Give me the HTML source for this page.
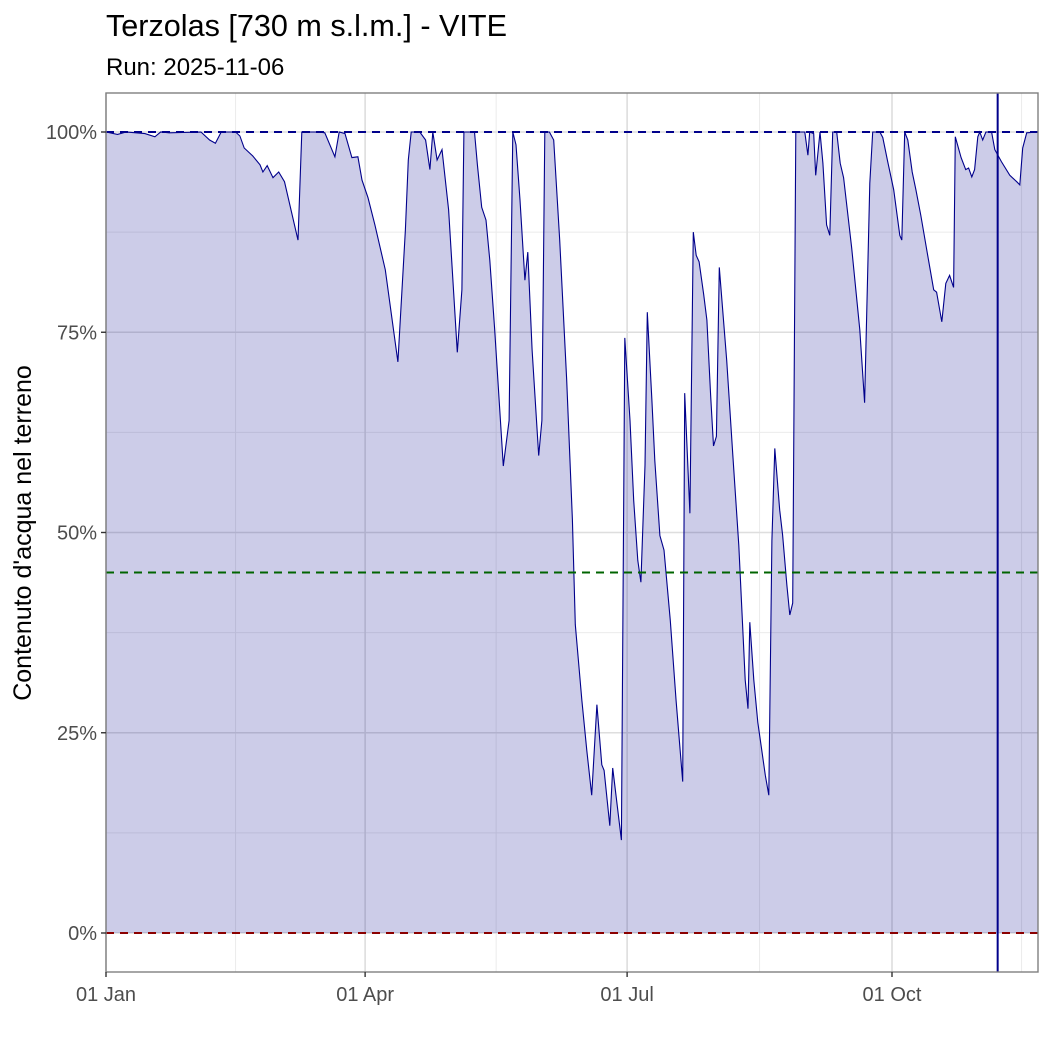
<!DOCTYPE html>
<html><head><meta charset="utf-8"><style>
body{margin:0;background:#fff;}
svg text{font-family:"Liberation Sans Narrow","Liberation Sans",sans-serif;}
</style></head><body>
<svg id="chart" width="1050" height="1050" xmlns="http://www.w3.org/2000/svg">
<text x="106" y="36" font-size="31" fill="#000" textLength="401" lengthAdjust="spacingAndGlyphs">Terzolas [730 m s.l.m.] - VITE</text>
<text x="106" y="75" font-size="24" fill="#000">Run: 2025-11-06</text>
<text transform="translate(31,533) rotate(-90)" text-anchor="middle" font-size="25" fill="#000">Contenuto d'acqua nel terreno</text>
<g id="grid"></g><g id="marks"></g><g id="axes"></g>
</svg>
<script>
const days=[0,4,7,13.5,17,19,22,33,36,38,40,45,46.5,48,51,53.5,54.5,56,58,60,62,66.7,68,74,76,79.5,81,83,85.4,87.5,88.9,91,93.4,97,101.4,104,105,106,109,111,112.5,113.5,115,116.7,119,122,123.6,124.3,128,129,130.5,132,133.3,135,138,140,141.3,142.4,143.8,145.5,146.5,148,150.3,151.4,152.4,154,155.5,157.6,160,162,163,165.3,167,168.7,170.5,172.2,173,175,176,179,180.2,182,183.3,184.7,185.8,187.2,188,189.6,190.6,192.4,193.8,196,198,200.3,201,202.8,204,205,206,207.6,208.7,210,211,212,213,215.6,217.7,219.8,222,223,223.6,225,226.4,229,230.2,231.3,232.3,234,235,236.5,237.5,238.5,239.6,242.7,243.8,244.4,245.8,246.5,248,249,250.3,251.4,252.4,253.8,255,256.2,259,261.8,263.5,265.3,266.3,268.8,269.8,271.5,273.6,275.7,276.4,277.4,278.5,280,281.3,283,285.4,287.5,288.5,290.3,291.7,293,294.4,295,297,298.6,299.6,300.7,301.7,302.8,303.5,304.5,305.6,307.6,308.7,311,313.9,316.3,317.4,318.4,319.8,323.6];
const water=[100,99.7,100,99.8,99.4,100,99.9,100,99,98.6,100,100,99.5,98,97,95.9,95,95.8,94.3,95,93.8,86.5,100,100,99.9,96.9,100,99.8,96.8,96.9,94,91.8,88.4,82.8,71.3,87.8,96.5,100,100,99,95.3,100,96.5,97.8,90.3,72.5,80.3,100,100,95.9,90.6,89,84,75.3,58.3,64,100,98.4,91.5,81.5,85,72.8,59.6,64,100,100,99,86.5,69,51.6,38.5,29,22.8,17.2,28.5,21,20.3,13.4,20.6,11.6,74.3,64,54,46.5,43.8,58.4,77.5,66.5,59,49.6,47.8,39,29,18.9,67.4,52.4,87.5,84.6,83.8,79.7,76.5,67.2,60.8,62,83.1,71.5,59.7,48.4,31.6,28,38.8,31.6,26.3,19.7,17.2,49,60.5,52.8,49.7,43.4,39.7,41.2,100,100,97.1,100,99.8,94.6,100,96.1,88.4,87.1,100,100,96.1,94.3,85.5,75.3,66.2,93.6,100,100,99.3,96.3,92.8,87.1,86.5,100,99,95,92.8,89.6,84.6,80.3,80,76.3,81.1,82.1,80.6,99.4,96.8,95.3,95.5,94.4,95.3,99.4,100,99,100,100,97.8,96.3,94.6,93.8,93.4,98,99.9,100];
const xTickDays=[0,90,181,273];
const xTickLabels=["01 Jan","01 Apr","01 Jul","01 Oct"];
const xMinorDays=[45,135.5,227,318];
const yTicks=[0,25,50,75,100];
const yTickLabels=["0%","25%","50%","75%","100%"];
const yMinor=[12.5,37.5,62.5,87.5];
const thresholds=[100,45,0];
const thresholdColors=["#00008b","#006400","#8b0000"];
const runDay=309.7;

const X0=106,X1=1038,Y0=93,Y1=972;
const x=d=>X0+d*(892-106)/273;
const y=v=>933-v*(933-132)/100;
const NS="http://www.w3.org/2000/svg";
function mk(tag,attrs,parent){const e=document.createElementNS(NS,tag);for(const k in attrs)e.setAttribute(k,attrs[k]);parent.appendChild(e);return e;}
const grid=document.getElementById('grid'),marks=document.getElementById('marks'),axes=document.getElementById('axes');
mk('rect',{x:X0,y:Y0,width:X1-X0,height:Y1-Y0,fill:'#fff'},grid);
yMinor.forEach(v=>{const l=mk('line',{x1:X0,x2:X1,y1:y(v),y2:y(v),stroke:'#ebebeb','stroke-width':1},grid);

});
xMinorDays.forEach(d=>{const l=mk('line',{x1:x(d),x2:x(d),y1:Y0,y2:Y1,stroke:'#ebebeb','stroke-width':1},grid);

});
yTicks.forEach(v=>{const l=mk('line',{x1:X0,x2:X1,y1:y(v),y2:y(v),stroke:'#dedede','stroke-width':1.6},grid);

});
xTickDays.forEach(d=>{const l=mk('line',{x1:x(d),x2:x(d),y1:Y0,y2:Y1,stroke:'#dedede','stroke-width':1.6},grid);

});
let pts=days.map((d,i)=>x(d).toFixed(1)+','+y(water[i]).toFixed(1));
const area=mk('polygon',{points:x(days[0])+','+y(0)+' '+pts.join(' ')+' '+x(days[days.length-1])+','+y(0),fill:'#00008b','fill-opacity':0.2},marks);


const line=mk('polyline',{points:pts.join(' '),fill:'none',stroke:'#00008b','stroke-width':1.1},marks);


thresholds.forEach((v,i)=>{const l=mk('line',{x1:X0,x2:X1,y1:y(v),y2:y(v),stroke:thresholdColors[i],'stroke-width':2,'stroke-dasharray':'8,6'},marks);

});
const rl=mk('line',{x1:x(runDay),x2:x(runDay),y1:Y0,y2:Y1,stroke:'#00008b','stroke-width':2},marks);


const fr=mk('rect',{x:X0,y:Y0,width:X1-X0,height:Y1-Y0,fill:'none',stroke:'#7f7f7f','stroke-width':1.4},axes);


yTicks.forEach((v,i)=>{mk('line',{x1:X0-5,x2:X0,y1:y(v),y2:y(v),stroke:'#333','stroke-width':1.4},axes);
const t=mk('text',{x:X0-9,y:y(v)+7,'text-anchor':'end','font-size':20,fill:'#4d4d4d'},axes);t.textContent=yTickLabels[i];

});
xTickDays.forEach((d,i)=>{mk('line',{x1:x(d),x2:x(d),y1:Y1,y2:Y1+5,stroke:'#333','stroke-width':1.4},axes);
const t=mk('text',{x:x(d),y:Y1+29,'text-anchor':'middle','font-size':20,fill:'#4d4d4d'},axes);t.textContent=xTickLabels[i];

});
</script>
</body></html>
